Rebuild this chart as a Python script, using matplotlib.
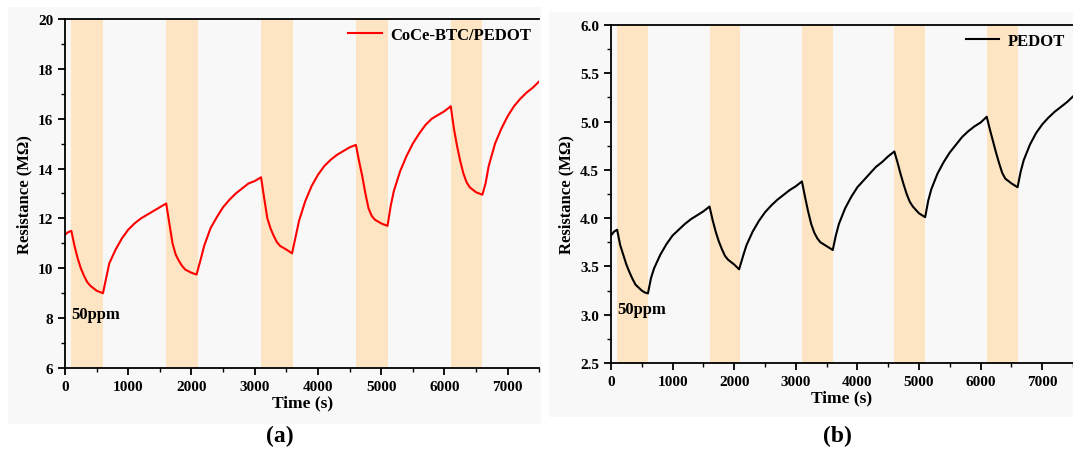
import matplotlib.pyplot as plt
from matplotlib.patches import Rectangle

plt.rcParams['font.family'] = ['Liberation Serif', 'DejaVu Serif']
plt.rcParams['font.weight'] = 'bold'

# gas exposure windows (s)
gas_on = [100, 1600, 3100, 4600, 6100]
gas_off = [600, 2100, 3600, 5100, 6600]

# CoCe-BTC/PEDOT response
time_a = [0, 50, 100, 150, 200, 250, 300, 350, 400, 450, 500, 550, 600,
          650, 700, 800, 900, 1000, 1100, 1200, 1300, 1400, 1500, 1600,
          1650, 1700, 1750, 1800, 1850, 1900, 2000, 2080,
          2150, 2200, 2300, 2400, 2500, 2600, 2700, 2800, 2900, 3000, 3100,
          3150, 3200, 3250, 3300, 3350, 3400, 3500, 3590,
          3650, 3700, 3800, 3900, 4000, 4100, 4200, 4300, 4400, 4500, 4600,
          4650, 4700, 4750, 4800, 4850, 4900, 5000, 5100,
          5150, 5200, 5300, 5400, 5500, 5600, 5700, 5800, 5900, 6000, 6100,
          6150, 6200, 6250, 6300, 6350, 6400, 6500, 6600,
          6650, 6700, 6800, 6900, 7000, 7100, 7200, 7300, 7400, 7500]
res_a = [11.35, 11.45, 11.5, 10.9, 10.4, 10.0, 9.7, 9.45, 9.3, 9.2, 9.1, 9.05, 9.0,
         9.6, 10.2, 10.75, 11.2, 11.55, 11.8, 12.0, 12.15, 12.3, 12.45, 12.6,
         11.8, 11.0, 10.55, 10.3, 10.1, 9.95, 9.82, 9.75,
         10.4, 10.9, 11.6, 12.05, 12.45, 12.75, 13.0, 13.2, 13.4, 13.5, 13.65,
         12.8, 12.0, 11.6, 11.3, 11.05, 10.9, 10.75, 10.6,
         11.3, 11.9, 12.7, 13.3, 13.75, 14.1, 14.35, 14.55, 14.7, 14.85, 14.95,
         14.3, 13.7, 13.0, 12.4, 12.1, 11.95, 11.8, 11.7,
         12.5, 13.1, 13.9, 14.5, 15.0, 15.4, 15.75, 16.0, 16.15, 16.3, 16.5,
         15.6, 14.9, 14.3, 13.8, 13.45, 13.25, 13.05, 12.95,
         13.4, 14.1, 15.0, 15.6, 16.1, 16.5, 16.8, 17.05, 17.25, 17.5]

# PEDOT response
time_b = [0, 50, 100, 150, 200, 250, 300, 350, 400, 450, 500, 550, 600,
          650, 700, 800, 900, 1000, 1100, 1200, 1300, 1400, 1500, 1600,
          1650, 1700, 1750, 1800, 1850, 1900, 2000, 2080,
          2150, 2200, 2300, 2400, 2500, 2600, 2700, 2800, 2900, 3000, 3100,
          3150, 3200, 3250, 3300, 3350, 3400, 3500, 3600,
          3650, 3700, 3800, 3900, 4000, 4100, 4200, 4300, 4400, 4500, 4600,
          4650, 4700, 4750, 4800, 4850, 4900, 5000, 5100,
          5150, 5200, 5300, 5400, 5500, 5600, 5700, 5800, 5900, 6000, 6100,
          6150, 6200, 6250, 6300, 6350, 6400, 6500, 6600,
          6650, 6700, 6800, 6900, 7000, 7100, 7200, 7300, 7400, 7500]
res_b = [3.82, 3.86, 3.88, 3.72, 3.62, 3.52, 3.44, 3.37, 3.31, 3.28, 3.25, 3.23, 3.22,
         3.38, 3.48, 3.62, 3.73, 3.82, 3.88, 3.94, 3.99, 4.03, 4.07, 4.12,
         3.98, 3.86, 3.76, 3.68, 3.61, 3.57, 3.52, 3.47,
         3.62, 3.72, 3.86, 3.97, 4.06, 4.13, 4.19, 4.24, 4.29, 4.33, 4.38,
         4.22, 4.07, 3.94, 3.85, 3.79, 3.75, 3.71, 3.67,
         3.82, 3.94, 4.1, 4.22, 4.32, 4.39, 4.46, 4.53, 4.58, 4.64, 4.69,
         4.58, 4.46, 4.35, 4.25, 4.17, 4.12, 4.05, 4.01,
         4.18, 4.3, 4.46, 4.58, 4.68, 4.76, 4.84, 4.9, 4.95, 4.99, 5.05,
         4.92, 4.8, 4.68, 4.57, 4.47, 4.41, 4.36, 4.32,
         4.48, 4.6, 4.76, 4.88, 4.97, 5.04, 5.1, 5.15, 5.2, 5.26]

fig = plt.figure(figsize=(10.73, 4.52), dpi=100)

# light grey panel backdrops, kept behind the axes
fig.patches.append(Rectangle((0.007, 0.06), 0.497, 0.922, transform=fig.transFigure,
                             facecolor='#f8f8f8', edgecolor='none', zorder=-5))
fig.patches.append(Rectangle((0.512, 0.075), 0.488, 0.897, transform=fig.transFigure,
                             facecolor='#f8f8f8', edgecolor='none', zorder=-5))

ax1 = fig.add_axes([0.0606, 0.1836, 0.4420, 0.7722])
ax2 = fig.add_axes([0.5694, 0.1947, 0.4306, 0.7478])

panels = [
    (ax1, time_a, res_a, 'red', 'CoCe-BTC/PEDOT', (6, 20), 2, 1, 8.0, '(a)', 0.261),
    (ax2, time_b, res_b, 'black', 'PEDOT', (2.5, 6.0), 0.5, 0.25, 3.02, '(b)', 0.780),
]

for ax, t, r, color, label, ylim, major, minor, ppm_y, tag, tag_x in panels:
    ax.set_facecolor('none')
    for start, stop in zip(gas_on, gas_off):
        ax.axvspan(start, stop, color='#fde4c3', lw=0, zorder=0)
    ax.plot(t, r, color=color, lw=1.5, label=label, zorder=2)
    ax.set_xlim(0, 7500)
    ax.set_ylim(*ylim)
    ax.set_xticks(range(0, 7001, 1000))
    ax.set_xticks(range(500, 7501, 1000), minor=True)
    ax.set_yticks([ylim[0] + i * major for i in range(int(round((ylim[1] - ylim[0]) / major)) + 1)])
    ax.set_yticks([ylim[0] + i * minor for i in range(int(round((ylim[1] - ylim[0]) / minor)) + 1)], minor=True)
    if major < 1:
        ax.yaxis.set_major_formatter(plt.FormatStrFormatter('%.1f'))
    ax.spines['right'].set_visible(False)
    for s in ['left', 'bottom', 'top']:
        ax.spines[s].set_linewidth(1.3)
    ax.tick_params(which='major', length=5, width=1.3, labelsize=11)
    ax.tick_params(which='minor', length=3, width=1.0)
    ax.set_xlabel('Time (s)', fontsize=12.5, fontweight='bold', labelpad=1)
    ax.set_ylabel('Resistance (MΩ)', fontsize=12, fontweight='bold', labelpad=4)
    ax.text(100, ppm_y, '50ppm', fontsize=12, fontweight='bold')
    ax.legend(loc='upper right', frameon=False, fontsize=12, handlelength=2.0,
              handletextpad=0.5, borderaxespad=0.1)
    fig.text(tag_x, 0.035, tag, ha='center', va='center', fontsize=17, fontweight='bold')

fig.savefig('out.png', dpi=100)
